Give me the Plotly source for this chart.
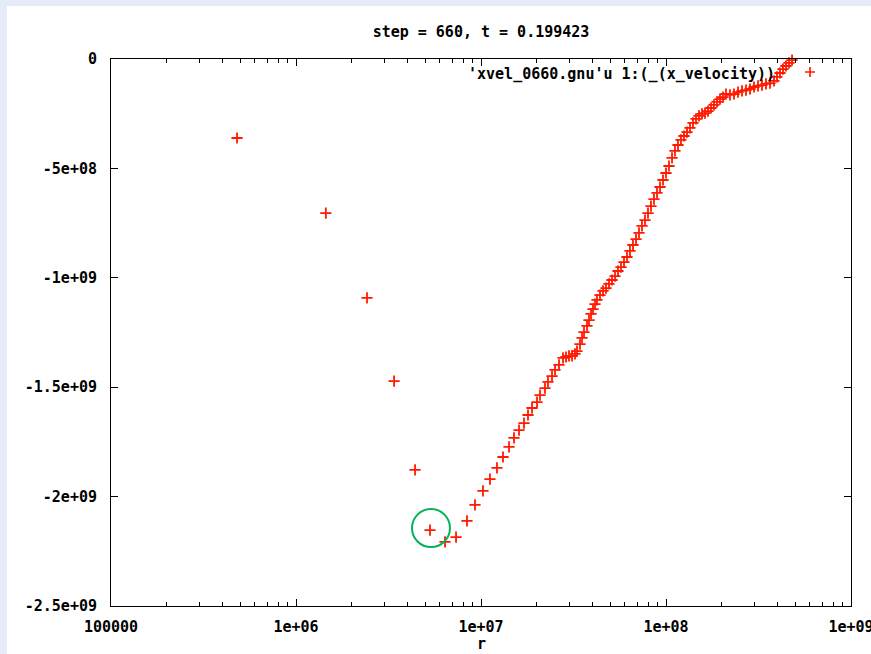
import math
import plotly.graph_objects as go

# ---- data ----
r = [4.80e5, 1.45e6, 2.42e6, 3.39e6, 4.40e6, 5.30e6, 6.39e6, 7.33e6, 8.40e6, 9.28e6,
     1.025e7, 1.118e7, 1.22e7, 1.315e7, 1.417e7, 1.508e7, 1.605e7, 1.708e7, 1.795e7, 1.887e7,
     2.008e7, 2.084e7, 2.218e7, 2.302e7, 2.42e7, 2.512e7, 2.64e7, 2.775e7, 2.881e7, 2.99e7,
     3.104e7, 3.222e7, 3.303e7, 3.428e7, 3.515e7, 3.604e7, 3.741e7, 3.835e7, 3.932e7, 4.031e7,
     4.132e7, 4.236e7, 4.397e7, 4.565e7, 4.739e7, 4.919e7, 5.107e7, 5.301e7, 5.502e7, 5.712e7,
     5.929e7, 6.154e7, 6.388e7, 6.631e7, 6.883e7, 7.145e7, 7.417e7, 7.699e7, 7.992e7, 8.296e7,
     8.611e7, 8.939e7, 9.281e7, 9.634e7, 1.0e8, 1.038e8, 1.078e8, 1.118e8, 1.161e8, 1.205e8,
     1.251e8, 1.299e8, 1.348e8, 1.399e8, 1.453e8, 1.508e8, 1.565e8, 1.625e8, 1.687e8, 1.751e8,
     1.817e8, 1.887e8, 1.958e8, 2.033e8, 2.110e8, 2.218e8, 2.331e8, 2.450e8, 2.575e8, 2.706e8,
     2.845e8, 2.990e8, 3.143e8, 3.303e8, 3.471e8, 3.649e8, 3.835e8, 3.981e8, 4.132e8, 4.289e8,
     4.452e8, 4.623e8, 4.80e8]
x_velocity = [-3.61e8, -7.04e8, -1.092e9, -1.472e9, -1.878e9, -2.153e9, -2.207e9, -2.185e9, -2.111e9, -2.038e9,
              -1.974e9, -1.920e9, -1.869e9, -1.819e9, -1.773e9, -1.732e9, -1.696e9, -1.664e9, -1.627e9, -1.595e9,
              -1.568e9, -1.536e9, -1.504e9, -1.476e9, -1.449e9, -1.421e9, -1.398e9, -1.366e9, -1.362e9, -1.357e9,
              -1.357e9, -1.348e9, -1.335e9, -1.303e9, -1.275e9, -1.248e9, -1.220e9, -1.193e9, -1.165e9, -1.143e9,
              -1.120e9, -1.101e9, -1.079e9, -1.060e9, -1.047e9, -1.028e9, -1.010e9, -9.92e8, -9.69e8, -9.51e8,
              -9.28e8, -9.05e8, -8.77e8, -8.50e8, -8.23e8, -7.95e8, -7.63e8, -7.36e8, -7.04e8, -6.72e8,
              -6.40e8, -6.12e8, -5.85e8, -5.53e8, -5.21e8, -4.89e8, -4.52e8, -4.20e8, -3.93e8, -3.70e8,
              -3.52e8, -3.34e8, -3.15e8, -2.92e8, -2.74e8, -2.60e8, -2.51e8, -2.47e8, -2.38e8, -2.24e8,
              -2.10e8, -1.96e8, -1.83e8, -1.74e8, -1.60e8, -1.64e8, -1.60e8, -1.51e8, -1.46e8, -1.42e8,
              -1.37e8, -1.28e8, -1.23e8, -1.19e8, -1.14e8, -1.10e8, -1.00e8, -8.2e7, -6.4e7, -4.6e7,
              -3.2e7, -1.8e7, -5e6]

x_tickvals = [1e5, 1e6, 1e7, 1e8, 1e9]
x_ticktext = ["100000", "1e+06", "1e+07", "1e+08", "1e+09"]
y_tickvals = [0, -5e8, -1e9, -1.5e9, -2e9, -2.5e9]
y_ticktext = ["0", "-5e+08", "-1e+09", "-1.5e+09", "-2e+09", "-2.5e+09"]
x_range_log = [5, 9]
y_range = [-2.5e9, 0]

title_text = "step = 660, t = 0.199423"
legend_text = "'xvel_0660.gnu'u 1:(_(x_velocity))"
xlabel = "r"
circled_index = 5

FONT = dict(family="DejaVu Sans Mono", size=15, color="black", weight="bold")
RED = "#ff1a00"

fig = go.Figure()
fig.add_trace(go.Scatter(
    x=r, y=x_velocity, mode="markers",
    marker=dict(symbol="cross-thin", size=8, line=dict(width=1.8, color=RED), color=RED),
    cliponaxis=False, showlegend=False,
))

axis_common = dict(
    showgrid=False, zeroline=False, showline=True, linecolor="black", linewidth=1,
    mirror="ticks", ticks="inside", ticklen=7, tickwidth=1, tickcolor="black",
    tickfont=FONT, automargin=False,
)
minor_ticks = dict(ticks="inside", ticklen=4, dtick="D1", tickcolor="black", showgrid=False)

fig.update_layout(
    xaxis=dict(type="log", range=x_range_log, tickvals=x_tickvals, ticktext=x_ticktext,
               ticklabelstandoff=7, ticklabeloverflow="allow", minor=minor_ticks, **axis_common),
    # top copy of the log axis, only to carry the mirrored minor ticks
    xaxis2=dict(type="log", range=x_range_log, overlaying="x", side="top", tickvals=x_tickvals,
                showticklabels=False, showgrid=False, zeroline=False, showline=False,
                ticks="inside", ticklen=7, tickcolor="black", minor=minor_ticks, automargin=False),
    yaxis=dict(range=y_range, tickvals=y_tickvals, ticktext=y_ticktext,
               ticklabelstandoff=10, **axis_common),
)

# circle anchor placed through the axis ranges (paper fraction of the circled data point)
cx = (math.log10(r[circled_index]) - x_range_log[0]) / (x_range_log[1] - x_range_log[0])
cy = (x_velocity[circled_index] - y_range[0]) / (y_range[1] - y_range[0])

shapes = [
    # white panel over the lavender page
    dict(type="rect", xref="paper", yref="paper", x0=-0.1405, x1=1.05, y0=-0.12, y1=1.0969,
         fillcolor="white", line=dict(width=0), layer="below"),
    # green highlight circle around one point
    dict(type="circle", xref="paper", yref="paper", xsizemode="pixel", ysizemode="pixel",
         xanchor=cx, yanchor=cy, x0=-18, x1=20, y0=-17, y1=21,
         line=dict(color="#00b356", width=2)),
    # key sample
    dict(type="path", xref="paper", yref="paper", xsizemode="pixel", ysizemode="pixel",
         xanchor=0.9446, yanchor=0.9762, path="M-5,0 H5 M0,-5 V5",
         line=dict(color=RED, width=1.6)),
]

fig.update_layout(
    width=871, height=654,
    margin=dict(l=111, r=20, t=59, b=48, pad=0, autoexpand=False),
    paper_bgcolor="#e6ebfa", plot_bgcolor="white",
    title=dict(text=title_text, font=FONT, x=0.5, xref="paper", xanchor="center",
               y=1 - 32 / 654, yref="container", yanchor="middle"),
    shapes=shapes,
    annotations=[
        dict(text=legend_text, xref="paper", yref="paper", x=0.9, y=0.9726,
             xanchor="right", yanchor="middle", showarrow=False, font=FONT),
        dict(text=xlabel, xref="paper", yref="paper", x=0.5, y=-0.05,
             xanchor="center", yanchor="top", showarrow=False, font=FONT),
    ],
)

fig.write_html(
    "out.html",
    config={"displayModeBar": False},
    post_script="document.body.style.margin='0px';document.body.style.background='#e6ebfa';",
)
